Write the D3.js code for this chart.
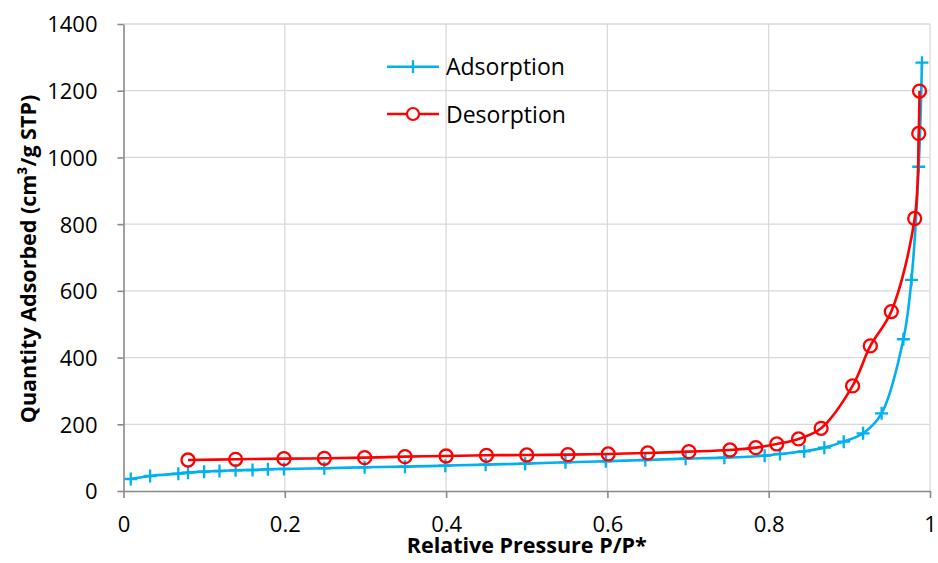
<!DOCTYPE html>
<html>
<head>
<meta charset="utf-8">
<script src="https://cdn.jsdelivr.net/npm/d3@7"></script>
<style>
  html, body { margin: 0; padding: 0; background: #fff; }
  svg { display: block; font-family: "Open Sans", "Noto Sans", sans-serif; }
</style>
</head>
<body>
<svg id="chart" width="938" height="563"></svg>
<script>
// Nitrogen isotherm: relative pressure (P/P*) vs quantity adsorbed (cm³/g STP)
const adsorptionP = [0.009, 0.033, 0.068, 0.080, 0.100, 0.119, 0.139, 0.160, 0.179, 0.199,
  0.249, 0.299, 0.349, 0.399, 0.449, 0.498, 0.548, 0.598, 0.647, 0.697,
  0.745, 0.795, 0.814, 0.844, 0.869, 0.893, 0.917, 0.940, 0.967, 0.977, 0.986, 0.990];
const adsorptionQ = [36, 45, 52, 55, 58, 60, 62, 63, 65, 66,
  68, 71, 73, 76, 79, 82, 86, 89, 93, 97,
  100, 106, 111, 119, 130, 148, 173, 233, 455, 633, 972, 1284];

const desorptionP = [0.080, 0.139, 0.199, 0.249, 0.299, 0.349, 0.400, 0.450, 0.500, 0.551,
  0.601, 0.650, 0.701, 0.752, 0.784, 0.810, 0.837, 0.865, 0.904, 0.926,
  0.952, 0.981, 0.986, 0.987];
const desorptionQ = [93, 95, 97, 98, 100, 103, 105, 107, 108, 109,
  111, 114, 118, 123, 130, 141, 156, 188, 315, 435,
  538, 817, 1072, 1199];

const xTicks = [0, 0.2, 0.4, 0.6, 0.8, 1];
const xTickLabels = ["0", "0.2", "0.4", "0.6", "0.8", "1"];
const yTicks = [0, 200, 400, 600, 800, 1000, 1200, 1400];

const seriesNames = ["Adsorption", "Desorption"];
const seriesColors = ["#00b0f0", "#ff0000"];

const svg = d3.select("#chart");
const plot = { left: 123.5, right: 930, top: 24, bottom: 491 };

const x = d3.scaleLinear().domain([0, 1]).range([plot.left, plot.right]);
const y = d3.scaleLinear().domain([0, 1400]).range([plot.bottom, plot.top]);

// gridlines
const grid = svg.append("g").attr("stroke", "#d9d9d9").attr("stroke-width", 1.3);
grid.selectAll("line.h").data(yTicks.slice(1)).join("line")
  .attr("x1", plot.left).attr("x2", plot.right)
  .attr("y1", d => y(d)).attr("y2", d => y(d));
grid.selectAll("line.v").data(xTicks.slice(1)).join("line")
  .attr("y1", plot.top).attr("y2", plot.bottom)
  .attr("x1", d => x(d)).attr("x2", d => x(d));

// axes
const fs = 22;
const xAxis = svg.append("g").attr("transform", `translate(0,${plot.bottom})`)
  .call(d3.axisBottom(x).tickValues(xTicks).tickFormat((d, i) => xTickLabels[i])
    .tickSizeInner(7).tickSizeOuter(0).tickPadding(19));
const yAxis = svg.append("g").attr("transform", `translate(${plot.left},0)`)
  .call(d3.axisLeft(y).tickValues(yTicks).tickFormat(d3.format("d"))
    .tickSizeInner(6).tickSizeOuter(0).tickPadding(20));
[xAxis, yAxis].forEach(a => {
  a.select(".domain").attr("stroke", "#898989").attr("stroke-width", 1.6);
  a.selectAll(".tick line").attr("stroke", "#898989").attr("stroke-width", 1.6);
  a.selectAll(".tick text").attr("fill", "#000").attr("font-size", fs)
    .attr("font-family", "'Open Sans', sans-serif");
});
yAxis.selectAll(".tick text").attr("dy", "0.36em");
xAxis.selectAll(".tick text").attr("y", 41).attr("dy", 0);

// axis titles
svg.append("text")
  .attr("x", (plot.left + plot.right) / 2 - 0).attr("y", 553)
  .attr("text-anchor", "middle").attr("font-weight", "bold").attr("font-size", 21.5)
  .text("Relative Pressure P/P*");
svg.append("text")
  .attr("transform", `translate(36,${259}) rotate(-90)`)
  .attr("text-anchor", "middle").attr("font-weight", "bold").attr("font-size", 21.5)
  .text("Quantity Adsorbed (cm³/g STP)");

// series
const adsorption = adsorptionP.map((p, i) => [p, adsorptionQ[i]]);
const desorption = desorptionP.map((p, i) => [p, desorptionQ[i]]);

const line = d3.line().x(d => x(d[0])).y(d => y(d[1])).curve(d3.curveCatmullRom.alpha(0.5));

svg.append("path").datum(adsorption)
  .attr("d", line).attr("fill", "none").attr("stroke", seriesColors[0]).attr("stroke-width", 2.6);
const plusSize = 6.5;
svg.append("g").attr("stroke", seriesColors[0]).attr("stroke-width", 2.3)
  .selectAll("path").data(adsorption).join("path")
  .attr("d", d => {
    const cx = x(d[0]), cy = y(d[1]);
    return `M${cx - plusSize},${cy}H${cx + plusSize}M${cx},${cy - plusSize}V${cy + plusSize}`;
  });

svg.append("path").datum(desorption)
  .attr("d", line).attr("fill", "none").attr("stroke", seriesColors[1]).attr("stroke-width", 2.6);
svg.append("g").selectAll("circle").data(desorption).join("circle")
  .attr("cx", d => x(d[0])).attr("cy", d => y(d[1])).attr("r", 6.5)
  .attr("fill", "none").attr("stroke", seriesColors[1]).attr("stroke-width", 2.3);

// legend
const legend = svg.append("g");
const legendY = [66.7, 114];
seriesNames.forEach((name, i) => {
  const g = legend.append("g").attr("transform", `translate(0,${legendY[i]})`);
  g.append("line").attr("x1", 387).attr("x2", 439).attr("y1", 0).attr("y2", 0)
    .attr("stroke", seriesColors[i]).attr("stroke-width", 2.6);
  if (i === 0) {
    g.append("path").attr("d", `M413,${-plusSize}V${plusSize}`)
      .attr("stroke", seriesColors[i]).attr("stroke-width", 2.3);
  } else {
    g.append("circle").attr("cx", 413).attr("cy", 0).attr("r", 6)
      .attr("fill", "#fff").attr("stroke", seriesColors[i]).attr("stroke-width", 2.2);
  }
  g.append("text").attr("x", 446).attr("y", 8.7).attr("font-size", 23).attr("fill", "#000").text(name);
});
</script>
</body>
</html>
